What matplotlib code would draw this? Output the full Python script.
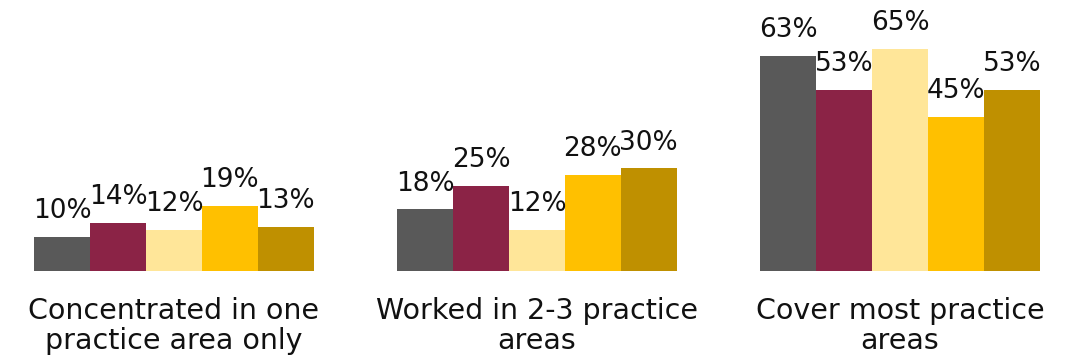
import numpy as np
import matplotlib
matplotlib.use("Agg")
import matplotlib.pyplot as plt

# survey groups and the five series shown for each
categories = ["Concentrated in one\npractice area only",
              "Worked in 2-3 practice\nareas",
              "Cover most practice\nareas"]
series_1 = [10, 18, 63]
series_2 = [14, 25, 53]
series_3 = [12, 12, 65]
series_4 = [19, 28, 45]
series_5 = [13, 30, 53]
colors = ["#595959", "#8B2346", "#FFE699", "#FFC000", "#BF9000"]

plt.rcParams["font.family"] = ["DejaVu Sans"]

fig = plt.figure(figsize=(10.77, 3.61), dpi=100)
ax = fig.add_axes([0, 90 / 361, 1, 271 / 361])

x = np.arange(len(categories))
w = 0.154
all_series = [series_1, series_2, series_3, series_4, series_5]
for i, (vals, c) in enumerate(zip(all_series, colors)):
    pos = x + (i - 2) * w
    bars = ax.bar(pos, vals, width=w, color=c)
    for b, v in zip(bars, vals):
        ax.annotate(f"{v}%", (b.get_x() + b.get_width() / 2, v),
                    xytext=(0, 13.5), textcoords="offset points",
                    ha="center", va="baseline", fontsize=19,
                    color="#111111")

ax.set_xlim(-174 / 363, (1077 - 174) / 363)
ax.set_ylim(0, 271 / 3.42)
ax.axis("off")

# category labels under each group
for xi, lab in zip(x, categories):
    ax.text(xi, -26 / 271, lab, transform=ax.get_xaxis_transform(),
            ha="center", va="top", fontsize=20.5, color="#111111",
            linespacing=1.1)

fig.savefig("out.png", dpi=100)
